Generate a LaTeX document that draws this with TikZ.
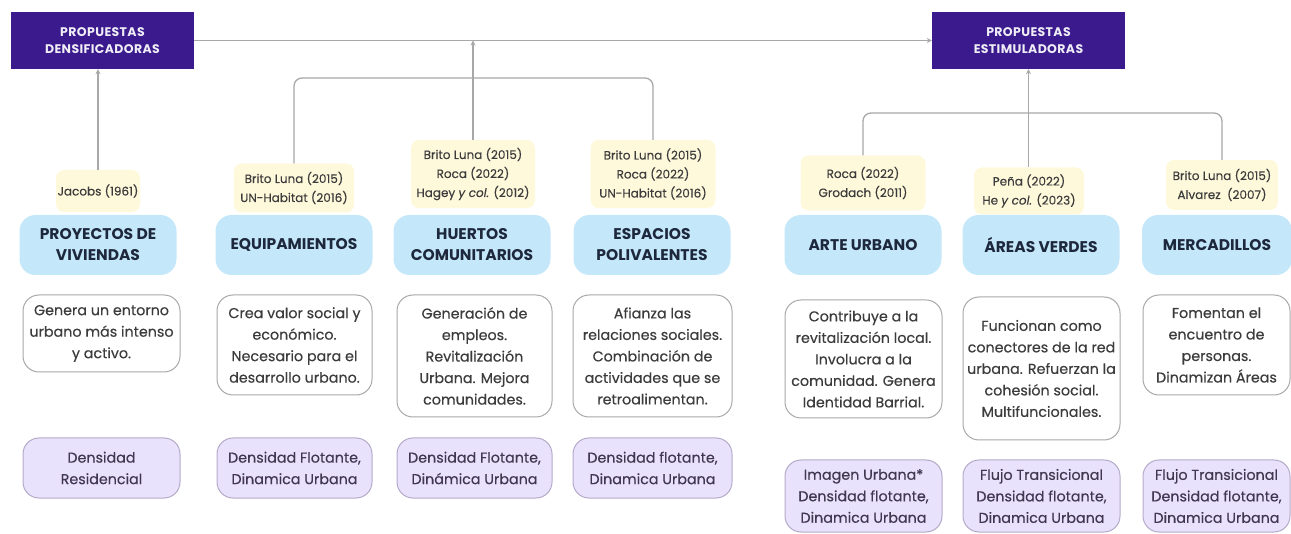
\documentclass[tikz,border=0pt]{standalone}
\usepackage{fontspec}
\setmainfont{Poppins}
\newfontfamily\bodyfont{Poppins}[FakeBold=0.35]
\newfontfamily\hdrfont{Poppins}[LetterSpace=3]
\usetikzlibrary{arrows.meta}
\definecolor{hdr}{RGB}{58,26,140}
\definecolor{bluefill}{RGB}{196,232,250}
\definecolor{purfill}{RGB}{233,226,252}
\definecolor{purdraw}{RGB}{180,170,200}
\definecolor{grayline}{RGB}{168,168,168}
\definecolor{citefill}{RGB}{255,249,220}
\definecolor{txt}{RGB}{60,60,60}
\definecolor{navy}{RGB}{30,40,60}
\definecolor{purtxt}{RGB}{65,55,80}
\begin{document}
\begin{tikzpicture}[x=1pt,y=-1pt,
 hdrbox/.style={fill=hdr, text=white!92!hdr, font=\hdrfont\bfseries\fontsize{12.5}{17}\selectfont, align=center, minimum width=183pt, minimum height=57pt, inner sep=0pt},
 cite/.style={fill=citefill, rounded corners=8pt, text=txt, font=\bodyfont\fontsize{12}{19}\selectfont, align=center, inner sep=0pt},
 topic/.style={fill=bluefill, rounded corners=16pt, text=navy, font=\bfseries\fontsize{15.5}{21}\selectfont, align=center, minimum width=157pt, minimum height=60pt, inner sep=0pt},
 desc/.style={draw=grayline, line width=1pt, fill=white, rounded corners=16pt, text=txt, font=\bodyfont\fontsize{14.3}{21.5}\selectfont, align=center, inner sep=0pt},
 dens/.style={draw=purdraw, line width=1pt, fill=purfill, rounded corners=16pt, text=purtxt, font=\bodyfont\fontsize{14.3}{21.5}\selectfont, align=center, inner sep=0pt},
 conn/.style={draw=grayline, line width=1.3pt},
 tip/.style={-{Stealth[length=5pt,width=5pt]}}
]
\useasboundingbox (0,0) rectangle (1291,534);
% headers
\node[hdrbox] (h1) at (102.5,40.5) {PROPUESTAS\\DENSIFICADORAS};
\node[hdrbox, minimum width=193pt] (h2) at (1028.5,40.5) {PROPUESTAS\\ESTIMULADORAS};
% citations
\node[cite, minimum width=84pt, minimum height=42pt] (cJac) at (98,191) {Jacobs (1961)};
\node[cite, minimum width=120pt, minimum height=49pt] (cEq) at (294,188) {Brito Luna (2015)\\UN-Habitat (2016)};
\node[cite, minimum width=124pt, minimum height=68pt] (cHu) at (473,174) {Brito Luna (2015)\\Roca (2022)\\Hagey \emph{y col.} (2012)};
\node[cite, minimum width=125pt, minimum height=68pt] (cEsp) at (653,174) {Brito Luna (2015)\\Roca (2022)\\UN-Habitat (2016)};
\node[cite, minimum width=125pt, minimum height=55pt] (cArte) at (863,183) {Roca (2022)\\Grodach (2011)};
\node[cite, minimum width=110pt, minimum height=47pt] (cPena) at (1029,191) {Peña (2022)\\He \emph{y col.} (2023)};
\node[cite, minimum width=112pt, minimum height=50pt] (cMerc) at (1222,185) {Brito Luna (2015)\\Alvarez\ \ (2007)};
% topics
\node[topic] (tViv) at (98,245) {PROYECTOS DE\\VIVIENDAS};
\node[topic] (tEq) at (294,245) {EQUIPAMIENTOS};
\node[topic] (tHu) at (472,245) {HUERTOS\\COMUNITARIOS};
\node[topic] (tEsp) at (652,245) {ESPACIOS\\POLIVALENTES};
\node[topic] (tArte) at (863,245) {ARTE URBANO};
\node[topic] (tAre) at (1041,245) {ÁREAS VERDES};
\node[topic, minimum width=150pt] (tMer) at (1217,245) {MERCADILLOS};
% descriptions
\node[desc, minimum width=157pt, minimum height=77pt] (dViv) at (101.5,333.5) {Genera un entorno\\urbano más intenso\\y activo.};
\node[desc, minimum width=155pt, minimum height=100pt] (dEq) at (294.5,345) {Crea valor social y\\económico.\\Necesario para el\\desarrollo urbano.};
\node[desc, minimum width=155pt, minimum height=122pt] (dHu) at (474.5,356) {Generación de\\empleos.\\Revitalización\\Urbana. Mejora\\comunidades.};
\node[desc, minimum width=159pt, minimum height=122pt] (dEsp) at (652.5,356) {Afianza las\\relaciones sociales.\\Combinación de\\actividades que se\\retroalimentan.};
\node[desc, minimum width=157pt, minimum height=118pt] (dArte) at (863.5,359) {Contribuye a la\\revitalización local.\\Involucra a la\\comunidad. Genera\\Identidad Barrial.};
\node[desc, minimum width=157pt, minimum height=143pt] (dAre) at (1041.5,368.5) {Funcionan como\\conectores de la red\\urbana. Refuerzan la\\cohesión social.\\Multifuncionales.};
\node[desc, minimum width=147pt, minimum height=100pt] (dMer) at (1216.5,345) {Fomentan el\\encuentro de\\personas.\\Dinamizan Áreas};
% densities
\node[dens, minimum width=157pt, minimum height=60pt] (pViv) at (101.5,468) {Densidad\\Residencial};
\node[dens, minimum width=155pt, minimum height=60pt] (pEq) at (294.5,468) {Densidad Flotante,\\Dinamica Urbana};
\node[dens, minimum width=155pt, minimum height=60pt] (pHu) at (474.5,468) {Densidad Flotante,\\Dinámica Urbana};
\node[dens, minimum width=159pt, minimum height=60pt] (pEsp) at (652.5,468) {Densidad flotante,\\Dinamica Urbana};
\node[dens, minimum width=157pt, minimum height=72pt] (pArte) at (863.5,496) {Imagen Urbana*\\Densidad flotante,\\Dinamica Urbana};
\node[dens, minimum width=157pt, minimum height=72pt] (pAre) at (1041.5,496) {Flujo Transicional\\Densidad flotante,\\Dinamica Urbana};
\node[dens, minimum width=147pt, minimum height=72pt] (pMer) at (1216.5,496) {Flujo Transicional\\Densidad flotante,\\Dinamica Urbana};
% connectors
\coordinate (j1) at (473,40.5);
\coordinate (t1) at (473,78);
\coordinate (t2) at (1028.5,113);
\draw[conn,tip] (h1.east) -- (h2.west);
\draw[conn,tip] (cHu.north) -- (j1);
\draw[conn,rounded corners=8pt] (cEq.north) |- (t1);
\draw[conn,rounded corners=8pt] (cEsp.north) |- (t1);
\draw[conn,tip] (cJac.north) -- (cJac.north |- h1.south);
\draw[conn,rounded corners=8pt] (cArte.north) |- (t2);
\draw[conn,rounded corners=8pt] (cMerc.north) |- (t2);
\draw[conn,tip] (cPena.north -| t2) -- (h2.south);
\end{tikzpicture}
\end{document}
